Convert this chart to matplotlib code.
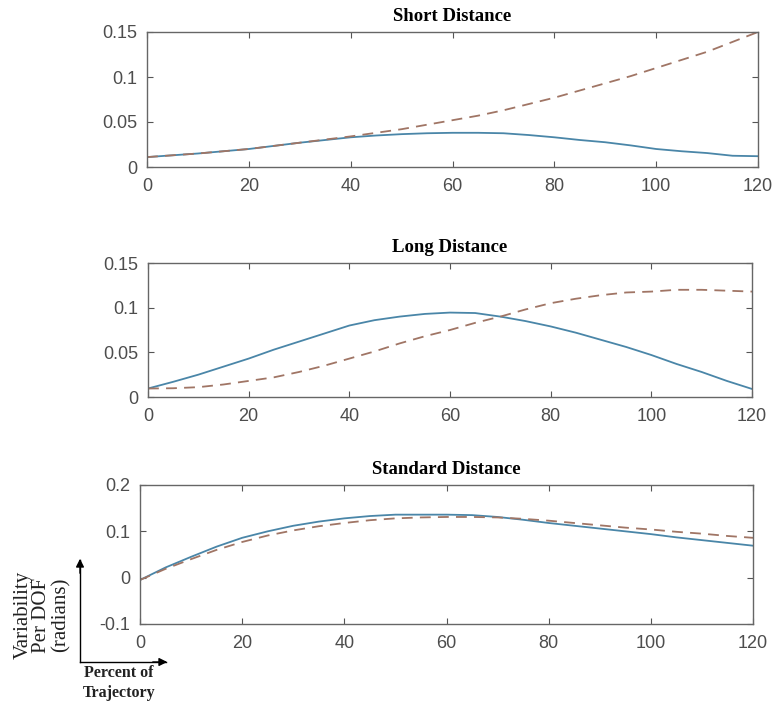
import matplotlib.pyplot as plt

# percent of trajectory
x = [0, 5, 10, 15, 20, 25, 30, 35, 40, 45, 50, 55, 60,
     65, 70, 75, 80, 85, 90, 95, 100, 105, 110, 115, 120]

short_solid = [0.011, 0.013, 0.015, 0.0175, 0.020, 0.0235, 0.027, 0.030, 0.033, 0.035, 0.0365, 0.0375, 0.038,
               0.038, 0.0375, 0.0355, 0.033, 0.030, 0.0275, 0.024, 0.020, 0.0175, 0.0155, 0.0125, 0.012]
short_dash = [0.011, 0.013, 0.015, 0.0175, 0.020, 0.0235, 0.027, 0.0305, 0.034, 0.038, 0.042, 0.047, 0.052,
              0.057, 0.063, 0.070, 0.077, 0.085, 0.093, 0.101, 0.110, 0.119, 0.128, 0.139, 0.150]

long_solid = [0.0095, 0.017, 0.025, 0.034, 0.043, 0.053, 0.062, 0.071, 0.080, 0.086, 0.090, 0.093, 0.0945,
              0.094, 0.090, 0.085, 0.079, 0.072, 0.064, 0.056, 0.047, 0.037, 0.028, 0.018, 0.009]
long_dash = [0.0095, 0.0098, 0.011, 0.014, 0.018, 0.022, 0.028, 0.035, 0.043, 0.051, 0.060, 0.068, 0.075,
             0.083, 0.090, 0.098, 0.105, 0.110, 0.114, 0.117, 0.118, 0.120, 0.120, 0.119, 0.118]

std_solid = [-0.005, 0.022, 0.045, 0.067, 0.086, 0.100, 0.112, 0.121, 0.128, 0.133, 0.136, 0.136, 0.136,
             0.135, 0.131, 0.125, 0.118, 0.112, 0.106, 0.100, 0.094, 0.087, 0.081, 0.075, 0.069]
std_dash = [-0.005, 0.019, 0.040, 0.060, 0.077, 0.091, 0.102, 0.111, 0.118, 0.124, 0.128, 0.130, 0.131,
            0.131, 0.130, 0.127, 0.123, 0.118, 0.113, 0.108, 0.104, 0.099, 0.095, 0.090, 0.086]

titles = ['Short Distance', 'Long Distance', 'Standard Distance']
yticks = [[0, 0.05, 0.1, 0.15], [0, 0.05, 0.1, 0.15], [-0.1, 0, 0.1, 0.2]]
yticklabels = [['0', '0.05', '0.1', '0.15'], ['0', '0.05', '0.1', '0.15'], ['-0.1', '0', '0.1', '0.2']]
xticks = [0, 20, 40, 60, 80, 100, 120]

W, H = 774, 706
fig = plt.figure(figsize=(W / 100, H / 100), dpi=100)
fig.patch.set_facecolor('white')

# axes boxes in pixels: left, right, top, bottom
boxes = [(147, 758, 32, 167), (148, 752, 263, 397), (140, 753, 485, 624)]
series = [(short_solid, short_dash), (long_solid, long_dash), (std_solid, std_dash)]
ylims = [(0, 0.15), (0, 0.15), (-0.1, 0.2)]

for i in range(3):
    l, r, t, b = boxes[i]
    ax = fig.add_axes([l / W, 1 - b / H, (r - l) / W, (b - t) / H])
    solid, dash = series[i]
    ax.plot(x, solid, color='#4a86a8', lw=1.3)
    ax.plot(x, dash, color='#a07565', lw=1.3, linestyle='--', dashes=(6, 4))
    ax.set_xlim(0, 120)
    ax.set_ylim(*ylims[i])
    ax.set_xticks(xticks)
    ax.set_yticks(yticks[i])
    ax.set_yticklabels(yticklabels[i])
    ax.tick_params(direction='in', top=True, right=True, length=4, width=0.8,
                   colors='#555555', labelcolor='#4d4d4d', labelsize=13)
    ax.tick_params(axis='x', pad=8)
    ax.tick_params(axis='y', pad=7)
    for lab in ax.get_xticklabels() + ax.get_yticklabels():
        lab.set_family('Liberation Sans')
    for s in ax.spines.values():
        s.set_color('#666666')
        s.set_linewidth(1.0)
    ax.set_title(titles[i], family='Liberation Serif', fontweight='bold',
                 fontsize=13.5, pad=8)

# axis annotation arrows in the lower left corner
fig.add_artist(plt.Line2D([80 / W, 80 / W], [44 / H, 146 / H], color='black', lw=1))
fig.add_artist(plt.Line2D([80 / W, 166 / W], [44 / H, 44 / H], color='black', lw=1))
plt.annotate('', xy=(80, 150), xytext=(80, 130), xycoords='figure pixels',
             arrowprops=dict(arrowstyle='-|>', color='black', lw=1, mutation_scale=12))
plt.annotate('', xy=(170, 44), xytext=(150, 44), xycoords='figure pixels',
             arrowprops=dict(arrowstyle='-|>', color='black', lw=1, mutation_scale=12))

fig.text(42 / W, 1 - 615 / H, 'Variability\nPer DOF\n(radians)', rotation=90,
         ha='center', va='center', multialignment='center',
         family='Liberation Serif', fontsize=15, linespacing=1.0, color='#222222')
fig.text(119 / W, 1 - 683 / H, 'Percent of\nTrajectory', ha='center', va='center',
         multialignment='center', family='Liberation Serif', fontweight='bold',
         fontsize=11.5, linespacing=1.3, color='#222222')

fig.savefig('out.png', dpi=100)
